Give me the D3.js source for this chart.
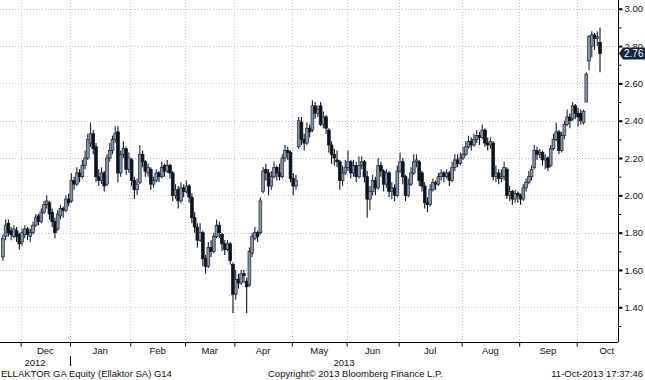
<!DOCTYPE html>
<html><head><meta charset="utf-8">
<script src="https://cdn.jsdelivr.net/npm/d3@7/dist/d3.min.js"></script>
<style>
body{margin:0;background:#fff}
svg{display:block}
text{font-family:"Liberation Sans",Arial,sans-serif;fill:#111}
</style>
</head><body>
<svg id="chart" width="645" height="380"></svg>
<script>
// ---- data (daily OHLC, ELLAKTOR GA, late Nov 2012 .. 11 Oct 2013) ----
const opens = [
1.67,1.78,1.85,1.81,1.78,1.81,1.79,1.75,1.79,1.82,
1.78,1.80,1.84,1.89,1.86,1.91,1.95,1.96,1.91,1.86,
1.82,1.89,1.93,1.92,1.98,1.97,2.08,2.06,2.12,2.10,
2.16,2.20,2.28,2.33,2.26,2.10,2.08,2.12,2.06,2.20,
2.24,2.30,2.34,2.12,2.22,2.25,2.14,2.19,2.08,2.03,
2.07,2.22,2.18,2.12,2.14,2.06,2.08,2.12,2.10,2.16,
2.13,2.16,2.12,2.00,2.03,1.97,2.04,2.02,2.05,1.99,
1.88,1.83,1.76,1.80,1.66,1.62,1.72,1.70,1.78,1.84,
1.79,1.74,1.71,1.74,1.63,1.47,1.55,1.53,1.58,1.54,
1.52,1.69,1.77,1.80,1.80,2.02,2.14,2.12,2.05,2.10,
2.15,2.12,2.10,2.20,2.24,2.23,2.09,2.05,2.26,2.39,
2.30,2.28,2.36,2.35,2.48,2.44,2.48,2.38,2.42,2.35,
2.27,2.22,2.19,2.18,2.08,2.12,2.15,2.18,2.12,2.16,
2.10,2.16,2.18,2.10,1.98,2.02,2.08,2.04,2.16,2.13,
2.06,2.12,2.02,2.04,2.00,2.13,2.18,2.10,2.00,2.06,
2.12,2.18,2.18,2.12,2.05,1.96,1.95,2.03,2.07,2.06,
2.10,2.12,2.10,2.12,2.08,2.15,2.19,2.17,2.20,2.22,
2.26,2.29,2.27,2.30,2.32,2.31,2.35,2.28,2.27,2.28,
2.10,2.12,2.09,2.10,2.14,2.00,2.02,1.98,2.01,2.00,
1.98,2.04,2.07,2.10,2.15,2.24,2.22,2.23,2.19,2.20,
2.16,2.25,2.30,2.34,2.24,2.32,2.38,2.42,2.41,2.48,
2.44,2.44,2.39,2.50,2.72,2.80,2.86,2.84,2.82];
const highs = [
1.79,1.87,1.87,1.83,1.84,1.83,1.80,1.82,1.84,1.83,
1.82,1.86,1.90,1.90,1.93,1.97,2.00,1.97,1.93,1.88,
1.92,1.95,1.94,2.00,2.01,2.12,2.10,2.15,2.14,2.19,
2.24,2.33,2.39,2.35,2.28,2.14,2.15,2.13,2.22,2.28,
2.32,2.37,2.37,2.24,2.29,2.26,2.23,2.20,2.10,2.09,
2.27,2.24,2.19,2.17,2.15,2.10,2.14,2.13,2.18,2.17,
2.19,2.17,2.13,2.06,2.05,2.07,2.06,2.08,2.06,2.01,
1.91,1.85,1.85,1.81,1.68,1.75,1.76,1.80,1.87,1.86,
1.80,1.76,1.76,1.75,1.64,1.60,1.58,1.60,1.60,1.56,
1.72,1.80,1.83,1.81,1.99,2.15,2.17,2.14,2.13,2.18,
2.16,2.17,2.22,2.27,2.26,2.24,2.12,2.11,2.42,2.42,
2.33,2.39,2.38,2.51,2.50,2.48,2.50,2.45,2.43,2.36,
2.29,2.25,2.24,2.19,2.16,2.19,2.24,2.19,2.19,2.18,
2.21,2.21,2.19,2.13,2.05,2.11,2.10,2.20,2.18,2.14,
2.14,2.13,2.07,2.06,2.16,2.23,2.20,2.11,2.09,2.15,
2.22,2.22,2.19,2.13,2.07,1.99,2.06,2.09,2.08,2.12,
2.14,2.13,2.14,2.13,2.18,2.22,2.22,2.23,2.26,2.29,
2.32,2.31,2.33,2.35,2.34,2.38,2.36,2.31,2.31,2.29,
2.16,2.14,2.14,2.18,2.15,2.05,2.03,2.03,2.02,2.01,
2.06,2.09,2.13,2.16,2.27,2.26,2.25,2.24,2.22,2.21,
2.27,2.33,2.39,2.35,2.34,2.40,2.46,2.44,2.50,2.49,
2.47,2.46,2.46,2.66,2.86,2.88,2.87,2.88,2.90];
const lows = [
1.65,1.76,1.78,1.76,1.77,1.75,1.71,1.73,1.77,1.76,
1.75,1.79,1.83,1.84,1.85,1.90,1.93,1.87,1.83,1.77,
1.81,1.87,1.88,1.91,1.94,1.96,2.03,2.05,2.07,2.09,
2.14,2.19,2.26,2.22,2.07,2.05,2.06,2.02,2.05,2.18,
2.22,2.28,2.07,2.10,2.20,2.11,2.12,2.05,1.98,2.00,
2.06,2.15,2.10,2.10,2.03,2.04,2.07,2.07,2.09,2.10,
2.12,2.09,1.97,1.98,1.93,1.96,1.99,2.01,1.96,1.85,
1.80,1.72,1.75,1.62,1.58,1.61,1.67,1.69,1.77,1.77,
1.70,1.68,1.70,1.63,1.37,1.44,1.50,1.52,1.53,1.37,
1.51,1.67,1.76,1.75,1.79,2.01,2.08,2.00,2.03,2.09,
2.08,2.08,2.09,2.18,2.19,2.07,2.00,2.03,2.25,2.27,
2.24,2.27,2.31,2.34,2.41,2.42,2.37,2.36,2.33,2.23,
2.17,2.16,2.15,2.03,2.05,2.11,2.13,2.09,2.10,2.07,
2.09,2.14,2.07,1.88,1.92,2.00,2.00,2.03,2.10,2.02,
2.04,1.99,1.98,1.97,1.99,2.12,2.06,1.97,1.99,2.05,
2.11,2.15,2.05,2.02,1.93,1.91,1.94,2.02,2.03,2.05,
2.08,2.07,2.09,2.05,2.07,2.13,2.15,2.16,2.19,2.21,
2.25,2.24,2.26,2.28,2.27,2.30,2.26,2.24,2.25,2.08,
2.07,2.06,2.07,2.08,1.98,1.97,1.95,1.96,1.96,1.95,
1.97,2.02,2.06,2.08,2.14,2.19,2.20,2.16,2.14,2.13,
2.15,2.24,2.29,2.22,2.23,2.30,2.37,2.36,2.40,2.41,
2.37,2.38,2.38,2.50,2.67,2.74,2.78,2.80,2.66];
const closes = [
1.77,1.84,1.80,1.79,1.82,1.78,1.74,1.80,1.82,1.79,
1.80,1.84,1.88,1.86,1.91,1.95,1.97,1.90,1.86,1.80,
1.90,1.93,1.92,1.98,1.96,2.08,2.06,2.12,2.10,2.16,
2.20,2.30,2.33,2.25,2.10,2.08,2.12,2.05,2.20,2.24,
2.30,2.33,2.12,2.22,2.25,2.14,2.20,2.08,2.03,2.06,
2.22,2.18,2.13,2.15,2.06,2.08,2.12,2.10,2.15,2.13,
2.16,2.12,2.00,2.03,1.97,2.04,2.02,2.05,1.99,1.88,
1.83,1.76,1.80,1.66,1.62,1.72,1.70,1.78,1.84,1.80,
1.74,1.71,1.74,1.65,1.47,1.55,1.53,1.58,1.57,1.51,
1.70,1.78,1.80,1.78,1.97,2.13,2.12,2.05,2.10,2.15,
2.12,2.10,2.20,2.24,2.23,2.09,2.05,2.08,2.40,2.30,
2.28,2.36,2.34,2.48,2.44,2.46,2.38,2.42,2.36,2.27,
2.22,2.20,2.18,2.08,2.12,2.15,2.18,2.12,2.16,2.10,
2.16,2.18,2.10,1.98,2.02,2.08,2.04,2.16,2.13,2.06,
2.12,2.02,2.04,2.00,2.13,2.18,2.10,2.00,2.06,2.12,
2.18,2.19,2.08,2.05,1.96,1.95,2.03,2.07,2.06,2.10,
2.12,2.10,2.12,2.08,2.15,2.19,2.17,2.20,2.22,2.26,
2.29,2.27,2.30,2.32,2.31,2.35,2.28,2.27,2.29,2.10,
2.12,2.09,2.10,2.15,2.00,2.02,1.98,2.01,2.00,1.98,
2.04,2.07,2.10,2.14,2.24,2.22,2.23,2.19,2.20,2.15,
2.25,2.30,2.34,2.24,2.32,2.38,2.42,2.40,2.48,2.44,
2.42,2.40,2.45,2.65,2.85,2.86,2.84,2.85,2.76];

const leadingDays = 7;                       // trading days shown before 1 Dec 2012
const monthLabels = ["Dec","Jan","Feb","Mar","Apr","May","Jun","Jul","Aug","Sep","Oct"];
const monthTradingDays = [18,22,20,18,21,20,19,23,21,21,9];
const monthFullDays    = [18,22,20,18,21,20,19,23,21,21,22];
const yearLabels = ["2012","2013"];
const yTicks = [1.4,1.6,1.8,2.0,2.2,2.4,2.6,2.8,3.0];
const yMinorTicks = [1.3,1.5,1.7,1.9,2.1,2.3,2.5,2.7,2.9];
const lastPrice = 2.76;
const footerLeft = "ELLAKTOR GA Equity (Ellaktor SA) G14";
const footerMid = "Copyright\u00A9 2013 Bloomberg Finance L.P.";
const footerRight = "11-Oct-2013 17:37:46";

// ---- layout ----
const W = 645, H = 380;
const plotR = 618, plotB = 342;
const svg = d3.select("#chart");

const x = d3.scaleLinear().domain([-0.557, 225.07]).range([0, plotR]);
const y = d3.scaleLinear().domain([1.214, 3.047]).range([plotB, 0]);

// month boundaries (in trading-day slots)
const starts = [];
let acc = leadingDays;
monthTradingDays.forEach(n => { starts.push(acc); acc += n; });

const grid = svg.append("g");
grid.selectAll("line.h").data(yTicks).join("line")
  .attr("x1", 0).attr("x2", plotR)
  .attr("y1", d => Math.round(y(d)) + 0.5).attr("y2", d => Math.round(y(d)) + 0.5)
  .attr("stroke", "#c4c4c4").attr("stroke-width", 1).attr("stroke-dasharray", "1,2");
grid.selectAll("line.v").data(starts).join("line")
  .attr("x1", d => Math.round(x(d)) + 0.5).attr("x2", d => Math.round(x(d)) + 0.5)
  .attr("y1", 0).attr("y2", plotB)
  .attr("stroke", "#c4c4c4").attr("stroke-width", 1).attr("stroke-dasharray", "1,2");

// ---- candles ----
const idx = d3.range(closes.length);
const g = svg.append("g");
const upFill = "#8595ab", dark = "#0b1522", edge = "#18273a";
g.selectAll("line.w").data(idx).join("line")
  .attr("x1", i => x(i + 0.5)).attr("x2", i => x(i + 0.5))
  .attr("y1", i => y(highs[i])).attr("y2", i => y(lows[i]))
  .attr("stroke", i => closes[i] >= opens[i] ? edge : dark).attr("stroke-width", 1.1);
g.selectAll("rect").data(idx).join("rect")
  .attr("x", i => x(i + 0.5) - 1.4)
  .attr("width", 2.8)
  .attr("y", i => y(Math.max(opens[i], closes[i])))
  .attr("height", i => Math.max(1, Math.abs(y(opens[i]) - y(closes[i]))))
  .attr("fill", i => closes[i] >= opens[i] ? upFill : dark)
  .attr("stroke", i => closes[i] >= opens[i] ? edge : dark)
  .attr("stroke-width", 0.7);

// ---- right axis ----
const yAxis = svg.append("g").attr("transform", `translate(${plotR + 0.5},0)`)
  .call(d3.axisRight(y).tickValues(yTicks).tickSize(4).tickPadding(2).tickFormat(d3.format(".2f")));
yAxis.select(".domain").attr("stroke", "#000").attr("d", `M0,0V${plotB}`);
yAxis.selectAll(".tick line").attr("stroke", "#000").attr("stroke-width", 2);
yAxis.selectAll(".tick text").attr("font-size", 9.5).attr("fill", "#111")
  .attr("font-family", "'Liberation Sans',Arial,sans-serif");
const yMinor = svg.append("g").attr("transform", `translate(${plotR + 0.5},0)`)
  .call(d3.axisRight(y).tickValues(yMinorTicks).tickSize(3).tickFormat(""));
yMinor.select(".domain").remove();
yMinor.selectAll(".tick line").attr("stroke", "#000");

// ---- bottom axis ----
const xAxis = svg.append("g").attr("transform", `translate(0,${plotB + 0.5})`)
  .call(d3.axisBottom(x).tickValues(starts).tickSize(4).tickFormat(""));
xAxis.select(".domain").attr("stroke", "#000").attr("d", `M0,0H${plotR}`);
xAxis.selectAll(".tick line").attr("stroke", "#000");

svg.append("g").selectAll("text").data(monthLabels).join("text")
  .attr("x", (d, k) => x(starts[k] + monthFullDays[k] / 2))
  .attr("y", 353.5).attr("text-anchor", "middle").attr("font-size", 9.5)
  .text(d => d);

// years
const janX = x(starts[1]);
svg.append("text").attr("x", janX / 2).attr("y", 365.5).attr("text-anchor", "middle")
  .attr("font-size", 9.5).text(yearLabels[0]);
svg.append("text").attr("x", (janX + plotR) / 2).attr("y", 365.5).attr("text-anchor", "middle")
  .attr("font-size", 9.5).text(yearLabels[1]);
svg.append("line").attr("x1", Math.round(janX) + 0.5).attr("x2", Math.round(janX) + 0.5)
  .attr("y1", 356).attr("y2", 366).attr("stroke", "#000");

// footer
svg.append("text").attr("x", 1).attr("y", 377).attr("font-size", 9.5).text(footerLeft);
svg.append("text").attr("x", 268).attr("y", 377).attr("font-size", 9.5).text(footerMid);
svg.append("text").attr("x", 643).attr("y", 377).attr("text-anchor", "end").attr("font-size", 9.5).text(footerRight);

// last price tag (covers the 2.80 label, as in the original)
const ly = y(lastPrice);
svg.append("path")
  .attr("d", `M${plotR + 1},${ly} L${plotR + 5},${ly - 6} H${W} V${ly + 6} H${plotR + 5} Z`)
  .attr("fill", "#0f2740");
svg.append("text").attr("x", 624).attr("y", ly + 3.5).attr("font-size", 10)
  .style("fill", "#fff").text(d3.format(".2f")(lastPrice));
</script>
</body></html>
